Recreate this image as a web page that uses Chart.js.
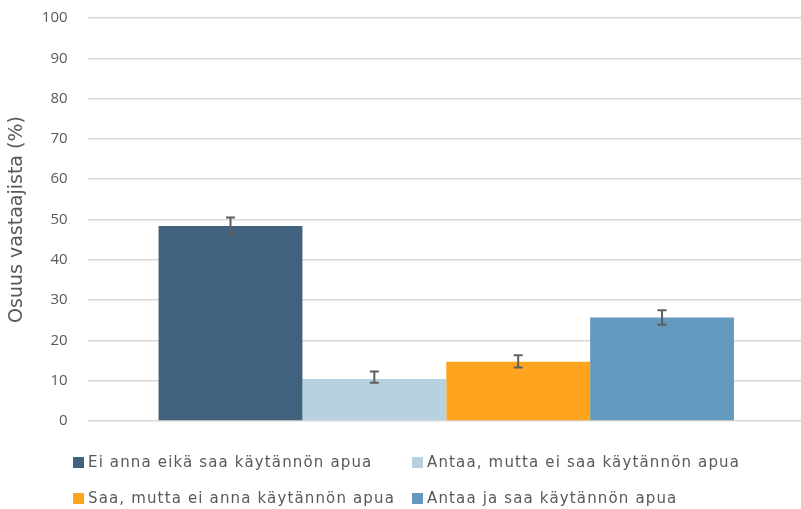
<!DOCTYPE html>
<html>
<head>
<meta charset="utf-8">
<script src="https://cdn.jsdelivr.net/npm/chart.js@4"></script>
<style>
  html, body { margin: 0; padding: 0; background: #ffffff; }
  #wrap { position: relative; width: 801px; height: 509px; overflow: hidden; }
  #c { position: absolute; left: 0; top: 0; }
  .leg { position: absolute; font-family: "DejaVu Sans", sans-serif; font-size: 15px; color: #595959; letter-spacing: 1.15px; white-space: nowrap; line-height: 18px; }
  .leg i { display: inline-block; width: 11px; height: 11px; margin-right: 4px; vertical-align: -1px; }
</style>
</head>
<body>
<div id="wrap">
  <canvas id="c" width="805" height="509"></canvas>
  <div id="legend"></div>
</div>
<script>
const categories = [''];
const seriesLabels = [
  'Ei anna eikä saa käytännön apua',
  'Antaa, mutta ei saa käytännön apua',
  'Saa, mutta ei anna käytännön apua',
  'Antaa ja saa käytännön apua'
];
const seriesValues = [48.4, 10.4, 14.7, 25.7];
const errLow = [46.3, 9.5, 13.3, 23.9];
const errHigh = [50.5, 12.3, 16.3, 27.5];
const yTicks = [0, 10, 20, 30, 40, 50, 60, 70, 80, 90, 100];
const yTitle = 'Osuus vastaajista (%)';

const colors = ['#41627f', '#b8d1e0', '#fea41e', '#6399be'];
const legendPos = [[73, 453], [412, 453], [73, 489], [412, 489]];

const errorBars = {
  id: 'errorBars',
  afterDatasetsDraw(chart) {
    const ctx = chart.ctx;
    const y = chart.scales.y;
    ctx.save();
    ctx.strokeStyle = '#5f5f5f';
    ctx.lineWidth = 2;
    chart.data.datasets.forEach((ds, i) => {
      const meta = chart.getDatasetMeta(i);
      meta.data.forEach((bar) => {
        const x = bar.x;
        const yl = y.getPixelForValue(errLow[i]);
        const yh = y.getPixelForValue(errHigh[i]);
        ctx.beginPath();
        ctx.moveTo(x, yl); ctx.lineTo(x, yh);
        ctx.moveTo(x - 4.5, yl); ctx.lineTo(x + 4.5, yl);
        ctx.moveTo(x - 4.5, yh); ctx.lineTo(x + 4.5, yh);
        ctx.stroke();
      });
    });
    ctx.restore();
  }
};

const datasets = seriesLabels.map((lab, i) => ({
  label: lab,
  data: [seriesValues[i]],
  backgroundColor: colors[i],
  borderWidth: 0,
  categoryPercentage: 0.802,
  barPercentage: 1.0
}));

new Chart(document.getElementById('c'), {
  type: 'bar',
  data: { labels: categories, datasets },
  options: {
    responsive: false,
    animation: false,
    layout: { padding: { top: 0, left: 6, right: 0, bottom: 88 } },
    plugins: { legend: { display: false }, tooltip: { enabled: false } },
    scales: {
      x: { display: false, grid: { display: false } },
      y: {
        min: 0, max: 100,
        border: { display: false },
        grid: { color: '#d9d9d9', lineWidth: 1.5, drawTicks: true, tickLength: 11, tickColor: 'rgba(0,0,0,0)' },
        afterBuildTicks: (s) => { s.ticks = yTicks.map(v => ({ value: v })); },
        ticks: { padding: 9, color: '#595959', font: { family: 'Open Sans', size: 15 } },
        title: { display: true, text: yTitle, color: '#595959', font: { family: 'DejaVu Sans', size: 19 }, padding: { top: 0, bottom: 4 } }
      }
    }
  },
  plugins: [errorBars]
});

const legendEl = document.getElementById('legend');
seriesLabels.forEach((lab, i) => {
  const d = document.createElement('div');
  d.className = 'leg';
  d.style.left = legendPos[i][0] + 'px';
  d.style.top = legendPos[i][1] + 'px';
  const b = document.createElement('i');
  b.style.background = colors[i];
  d.appendChild(b);
  d.appendChild(document.createTextNode(lab));
  legendEl.appendChild(d);
});
</script>
</body>
</html>
